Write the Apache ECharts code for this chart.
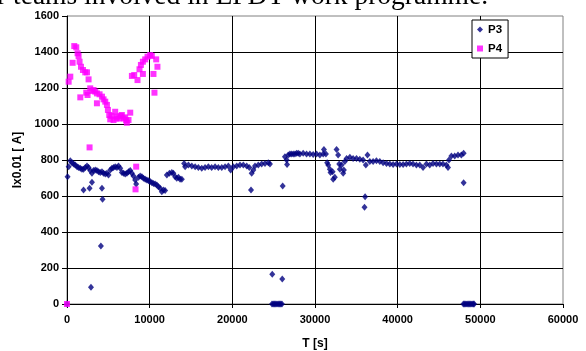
<!DOCTYPE html>
<html>
<head>
<meta charset="utf-8">
<script src="https://cdn.jsdelivr.net/npm/echarts@6/dist/echarts.min.js"></script>
<style>
  html, body { margin: 0; padding: 0; background: #fff; }
  #main { width: 586px; height: 351px; }
</style>
</head>
<body>
<div id="main"></div>
<script>
// P3 readings: time [s] and current (x0.01)
var p3Time = [0, 70, 200, 400, 600, 800, 1000, 1210, 1400, 1610, 1810, 2000, 2000, 2210, 2420, 2610, 2730, 2810, 2900, 3020, 3020,
  3210, 3420, 3620, 3820, 4020, 4100, 4230, 4230, 4300, 4420, 4630, 4830, 5020, 5230, 5430, 5630, 5830, 6040, 6230, 6440,
  6640, 6840, 7040, 7250, 7440, 7650, 7850, 8040, 8250, 8370, 8650, 8850, 9060, 9250, 9460, 9660, 9860, 10060, 10270, 10460,
  10660, 10870, 11060, 11270, 11470, 11670, 11870, 12080, 12390, 12680, 12870, 13080, 13280, 13480, 13680, 13890, 14170, 14290,
  14690, 15100, 15500, 15890, 16300, 16700, 17100, 17500, 17910, 18310, 18720, 19120, 19520, 19800, 20120, 20530, 20930, 21330,
  21740, 22050, 22260, 22340, 22540, 22740, 23140, 23550, 23950, 24350, 24550,
  24800, 24950, 25100, 25250, 25400, 25550, 25700, 25850, 26000, 24830, 26040,
  26090, 26360, 26570, 26620, 26760, 26970, 27170, 27370, 27570, 27770, 27970, 28170, 28570, 28980, 29380, 29780, 30190, 30590,
  30990, 31080, 31320, 31470, 31600, 31800, 31880, 32130, 32200, 32400, 32610, 32800, 32930, 33010, 33210, 33410, 33490, 33610,
  33820, 34220, 34610, 35020, 35420, 35820, 35990, 36060, 36150, 36350, 36630, 37030, 37430, 37840, 38240, 38650, 39050, 39450,
  39860, 40260, 40660, 41060, 41460, 41860, 42270, 42670, 43070, 43480, 43880, 44280, 44690, 45090, 45480, 45890, 46090, 46210,
  46500, 46900, 47300, 47700, 47980, 47980,
  47950, 48100, 48250, 48400, 48550, 48700, 48850, 49000, 49150, 49250];
var p3Value = [0, 707, 763, 796, 785, 778, 772, 763, 759, 754, 748, 748, 633, 759, 767, 759, 643, 741, 93, 726, 676,
  741, 744, 741, 735, 730, 322, 735, 643, 582, 726, 722, 726, 717, 744, 754, 759, 763, 759, 767, 754,
  730, 726, 722, 726, 735, 741, 726, 711, 689, 667, 704, 711, 707, 698, 693, 689, 685, 680, 674, 670,
  667, 661, 652, 643, 624, 633, 630, 717, 726, 730, 726, 707, 698, 704, 693, 693, 781, 763,
  772, 767, 763, 759, 754, 759, 763, 759, 763, 759, 759, 763, 767, 744, 763, 767, 772, 772,
  767, 759, 633, 726, 744, 767, 772, 778, 781, 785, 778,
  0, 0, 0, 0, 0, 0, 0, 0, 0, 165, 139,
  656, 818, 800, 775, 828, 833, 833, 833, 833, 837, 837, 833, 837, 833, 833, 830, 833, 828,
  833, 859, 833, 785, 772, 748, 730, 735, 693, 704, 859, 828, 778, 748, 772, 726, 744, 791,
  809, 815, 809, 809, 804, 800, 537, 596, 772, 828, 791, 791, 796, 791, 785, 781, 778, 775,
  778, 775, 775, 778, 781, 778, 772, 772, 759, 778, 772, 781, 778, 778, 778, 772, 759, 800,
  822, 822, 828, 828, 837, 674,
  0, 0, 0, 0, 0, 0, 0, 0, 0, 0];

// P4 readings
var p4Time = [0, 200, 400, 680, 880, 1120, 1280, 1400, 1520, 1610, 1690, 1930, 2210, 2330, 2420, 2490, 2610, 2730, 2810,
  3020, 3210, 3420, 3620, 3620, 3940, 4230, 4420, 4630, 4830, 4950, 5110, 5230, 5370, 5630, 5830, 5980, 6040, 6350, 6500,
  6640, 6840, 7040, 7150, 7250, 7440, 7650, 7850, 8130, 8290, 8370, 8530, 8770, 8940, 9180, 9180, 9460, 9740, 10060, 10260,
  10460, 10580, 10790, 10940];
var p4Value = [0, 1235, 1263, 1340, 1433, 1426, 1393, 1378, 1346, 1148, 1318, 1300, 1287, 1174, 1287, 1161, 1248, 870, 1198,
  1183, 1189, 1180, 1170, 1115, 1165, 1152, 1137, 1124, 1106, 1078, 1050, 1026, 1045, 1022, 1068, 1030, 1041, 1031, 1045,
  1050, 1031, 1037, 1020, 1007, 1022, 1063, 1267, 1272, 637, 763, 1244, 1304, 1328, 1346, 1278, 1359, 1374, 1383, 1378,
  1278, 1174, 1359, 1318];

var xTicks = [0, 10000, 20000, 30000, 40000, 50000, 60000];
var yTicks = [0, 200, 400, 600, 800, 1000, 1200, 1400, 1600];

function pairs(t, v) {
  var out = [];
  for (var i = 0; i < t.length; i++) out.push([t[i], v[i]]);
  return out;
}

var chart = echarts.init(document.getElementById('main'), null, { renderer: 'canvas' });
var labelFont = { color: '#000', fontFamily: 'Liberation Sans, Arial', fontWeight: 'bold', fontSize: 11 };

chart.setOption({
  animation: false,
  backgroundColor: '#fff',
  graphic: [{
    type: 'text',
    left: -3,
    top: -17,
    style: {
      text: 'r teams involved in EPDT work programme.',
      font: '27.5px "Liberation Serif", "Times New Roman", serif',
      fill: '#000'
    }
  }],
  grid: {
    left: 67, right: 23, top: 16, bottom: 47,
    outerBoundsMode: 'none',
    show: true, borderColor: '#808080', borderWidth: 1, backgroundColor: 'transparent'
  },
  legend: {
    left: 472, top: 20,
    orient: 'vertical',
    backgroundColor: '#fff',
    borderColor: '#000', borderWidth: 1,
    padding: [3, 6, 3, 5],
    itemGap: 6, itemWidth: 6, itemHeight: 6,
    textStyle: { color: '#000', fontFamily: 'Liberation Sans, Arial', fontWeight: 'bold', fontSize: 11.5, lineHeight: 13 },
    data: [{ name: 'P3', icon: 'diamond' }, { name: 'P4', icon: 'rect' }]
  },
  xAxis: {
    type: 'value', min: 0, max: 60000, interval: 10000,
    name: 'T [s]', nameLocation: 'middle', nameGap: 34,
    nameTextStyle: { color: '#000', fontFamily: 'Liberation Sans, Arial', fontWeight: 'bold', fontSize: 12 },
    axisLine: { lineStyle: { color: '#000', width: 1 } },
    axisTick: { show: true, length: 4, lineStyle: { color: '#000' } },
    axisLabel: Object.assign({ margin: 10, formatter: function (v) { return xTicks.indexOf(v) >= 0 ? String(v) : ''; } }, labelFont),
    splitLine: { show: true, showMaxLine: false, lineStyle: { color: '#000', width: 1 } }
  },
  yAxis: {
    type: 'value', min: 0, max: 1600, interval: 200,
    name: 'Ix0.01 [ A]', nameLocation: 'middle', nameGap: 37,
    nameTextStyle: { color: '#000', fontFamily: 'Liberation Sans, Arial', fontWeight: 'bold', fontSize: 12 },
    axisLine: { lineStyle: { color: '#000', width: 1 } },
    axisTick: { show: true, length: 5, lineStyle: { color: '#000' } },
    axisLabel: Object.assign({ margin: 8, formatter: function (v) { return yTicks.indexOf(v) >= 0 ? String(v) : ''; } }, labelFont),
    splitLine: { show: true, showMaxLine: false, lineStyle: { color: '#000', width: 1 } }
  },
  series: [
    {
      name: 'P3', type: 'scatter', symbol: 'diamond', symbolSize: [6, 7],
      itemStyle: { color: '#000080' },
      data: pairs(p3Time, p3Value), z: 2
    },
    {
      name: 'P4', type: 'scatter', symbol: 'rect', symbolSize: 6,
      itemStyle: { color: '#ff00ff' },
      data: pairs(p4Time, p4Value), z: 3
    }
  ]
});
</script>
</body>
</html>
